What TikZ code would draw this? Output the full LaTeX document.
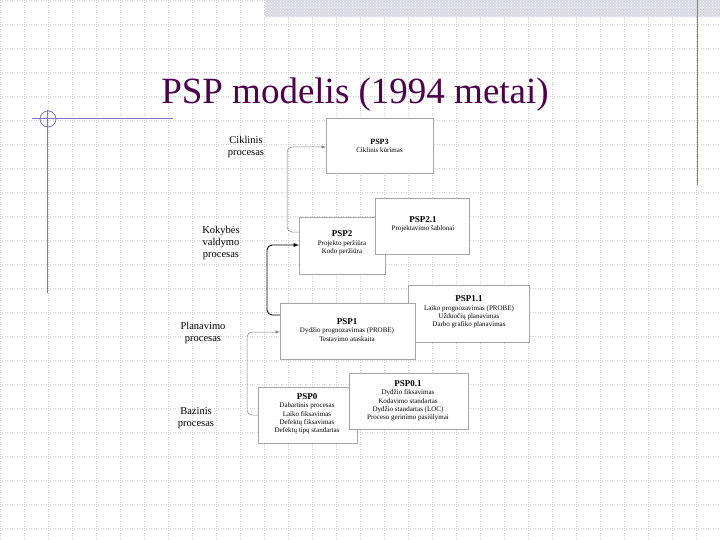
\documentclass[tikz,border=0pt]{standalone}
\usepackage{fontspec}
\setmainfont{Liberation Serif}
\usetikzlibrary{patterns}
\begin{document}
\begin{tikzpicture}[x=1pt,y=-1pt,
  box/.style={draw=gray!70,fill=white,anchor=north west,inner sep=0pt},
  txt/.style={align=center,font=\fontsize{7}{8.3}\selectfont},
  lab/.style={align=center,font=\fontsize{10.5}{12}\selectfont},
  conn/.style={-latex,rounded corners=5pt,draw=gray,line width=0.5pt},
  deco/.style={draw=blue!30!gray!80,line width=1pt}]
\useasboundingbox (0,0) rectangle (720,540);
\fill[white] (0,0) rectangle (720,540);
\foreach \i in {0,24,...,720} \draw[gray!35,dotted] (\i,0) -- (\i,540);
\foreach \j in {0,24,...,540} \draw[gray!35,dotted] (0,\j) -- (720,\j);
\fill[blue!20!gray!25] (265,0) rectangle (720,17);
\fill[pattern=crosshatch dots,pattern color=white] (265,0) rectangle (720,17);
\draw[deco] (697,0) -- (697,185);
\draw[deco] (32,119) -- (173,119);
\draw[deco] (47,110) -- (47,293);
\draw[blue!30!gray!80,line width=0.8pt] (48,119) circle (8pt);
\node[font=\fontsize{37}{40}\selectfont,text=violet!60!black] (title) at (355,95) {PSP modelis (1994 metai)};

\node[lab] (l3) at (246,147) {Ciklinis\\procesas};
\node[lab] (l2) at (221,243) {Kokybės\\valdymo\\procesas};
\node[lab] (l1) at (203,333) {Planavimo\\procesas};
\node[lab] (l0) at (196,418) {Bazinis\\procesas};

\node[box,minimum width=107pt,minimum height=55pt] (p3) at (326,118) {};
\node[txt] (p3t) at (379.5,146) {\textbf{\fontsize{8}{9}\selectfont PSP3}\\Ciklinis kūrimas};

\node[box,minimum width=86pt,minimum height=57pt] (p2) at (299,217) {};
\node[box,minimum width=94pt,minimum height=56pt] (p21) at (375,198) {};
\node[txt] (p2t) at (342,243) {\textbf{\fontsize{9}{10}\selectfont PSP2}\\Projekto peržiūra\\Kodo peržiūra};
\node[txt] (p21t) at (423,224) {\textbf{\fontsize{9}{10}\selectfont PSP2.1}\\Projektavimo šablonai};

\node[box,minimum width=121pt,minimum height=57pt] (p11) at (408,285) {};
\node[txt] (p11t) at (469,312) {\textbf{\fontsize{9}{10}\selectfont PSP1.1}\\Laiko prognozavimas (PROBE)\\Užduočių planavimas\\Darbo grafiko planavimas};
\node[box,minimum width=135pt,minimum height=56pt] (p1) at (280,303) {};
\node[txt] (p1t) at (347,330) {\textbf{\fontsize{9}{10}\selectfont PSP1}\\Dydžio prognozavimas (PROBE)\\Testavimo ataskaita};

\node[box,minimum width=99pt,minimum height=56pt] (p0) at (258,387) {};
\node[txt] (p0t) at (307,414) {\textbf{\fontsize{9}{10}\selectfont PSP0}\\Dabartinis procesas\\Laiko fiksavimas\\Defektų fiksavimas\\Defektų tipų standartas};
\node[box,minimum width=119pt,minimum height=56pt] (p01) at (349,373) {};
\node[txt] (p01t) at (408,401) {\textbf{\fontsize{9}{10}\selectfont PSP0.1}\\Dydžio fiksavimas\\Kodavimo standartas\\Dydžio standartas (LOC)\\Proceso gerinimo pasiūlymai};

\draw[conn] ([yshift=-15pt]p2.north west) -| (287,200) |- ([yshift=-29pt]p3.north west);
\draw[conn,draw=black,line width=0.9pt] ([yshift=-12pt]p1.north west) -| (267,270) |- ([yshift=-28pt]p2.north west);
\draw[conn] ([yshift=-28pt]p0.north west) -| (247,370) |- ([yshift=-29pt]p1.north west);
\end{tikzpicture}
\end{document}
